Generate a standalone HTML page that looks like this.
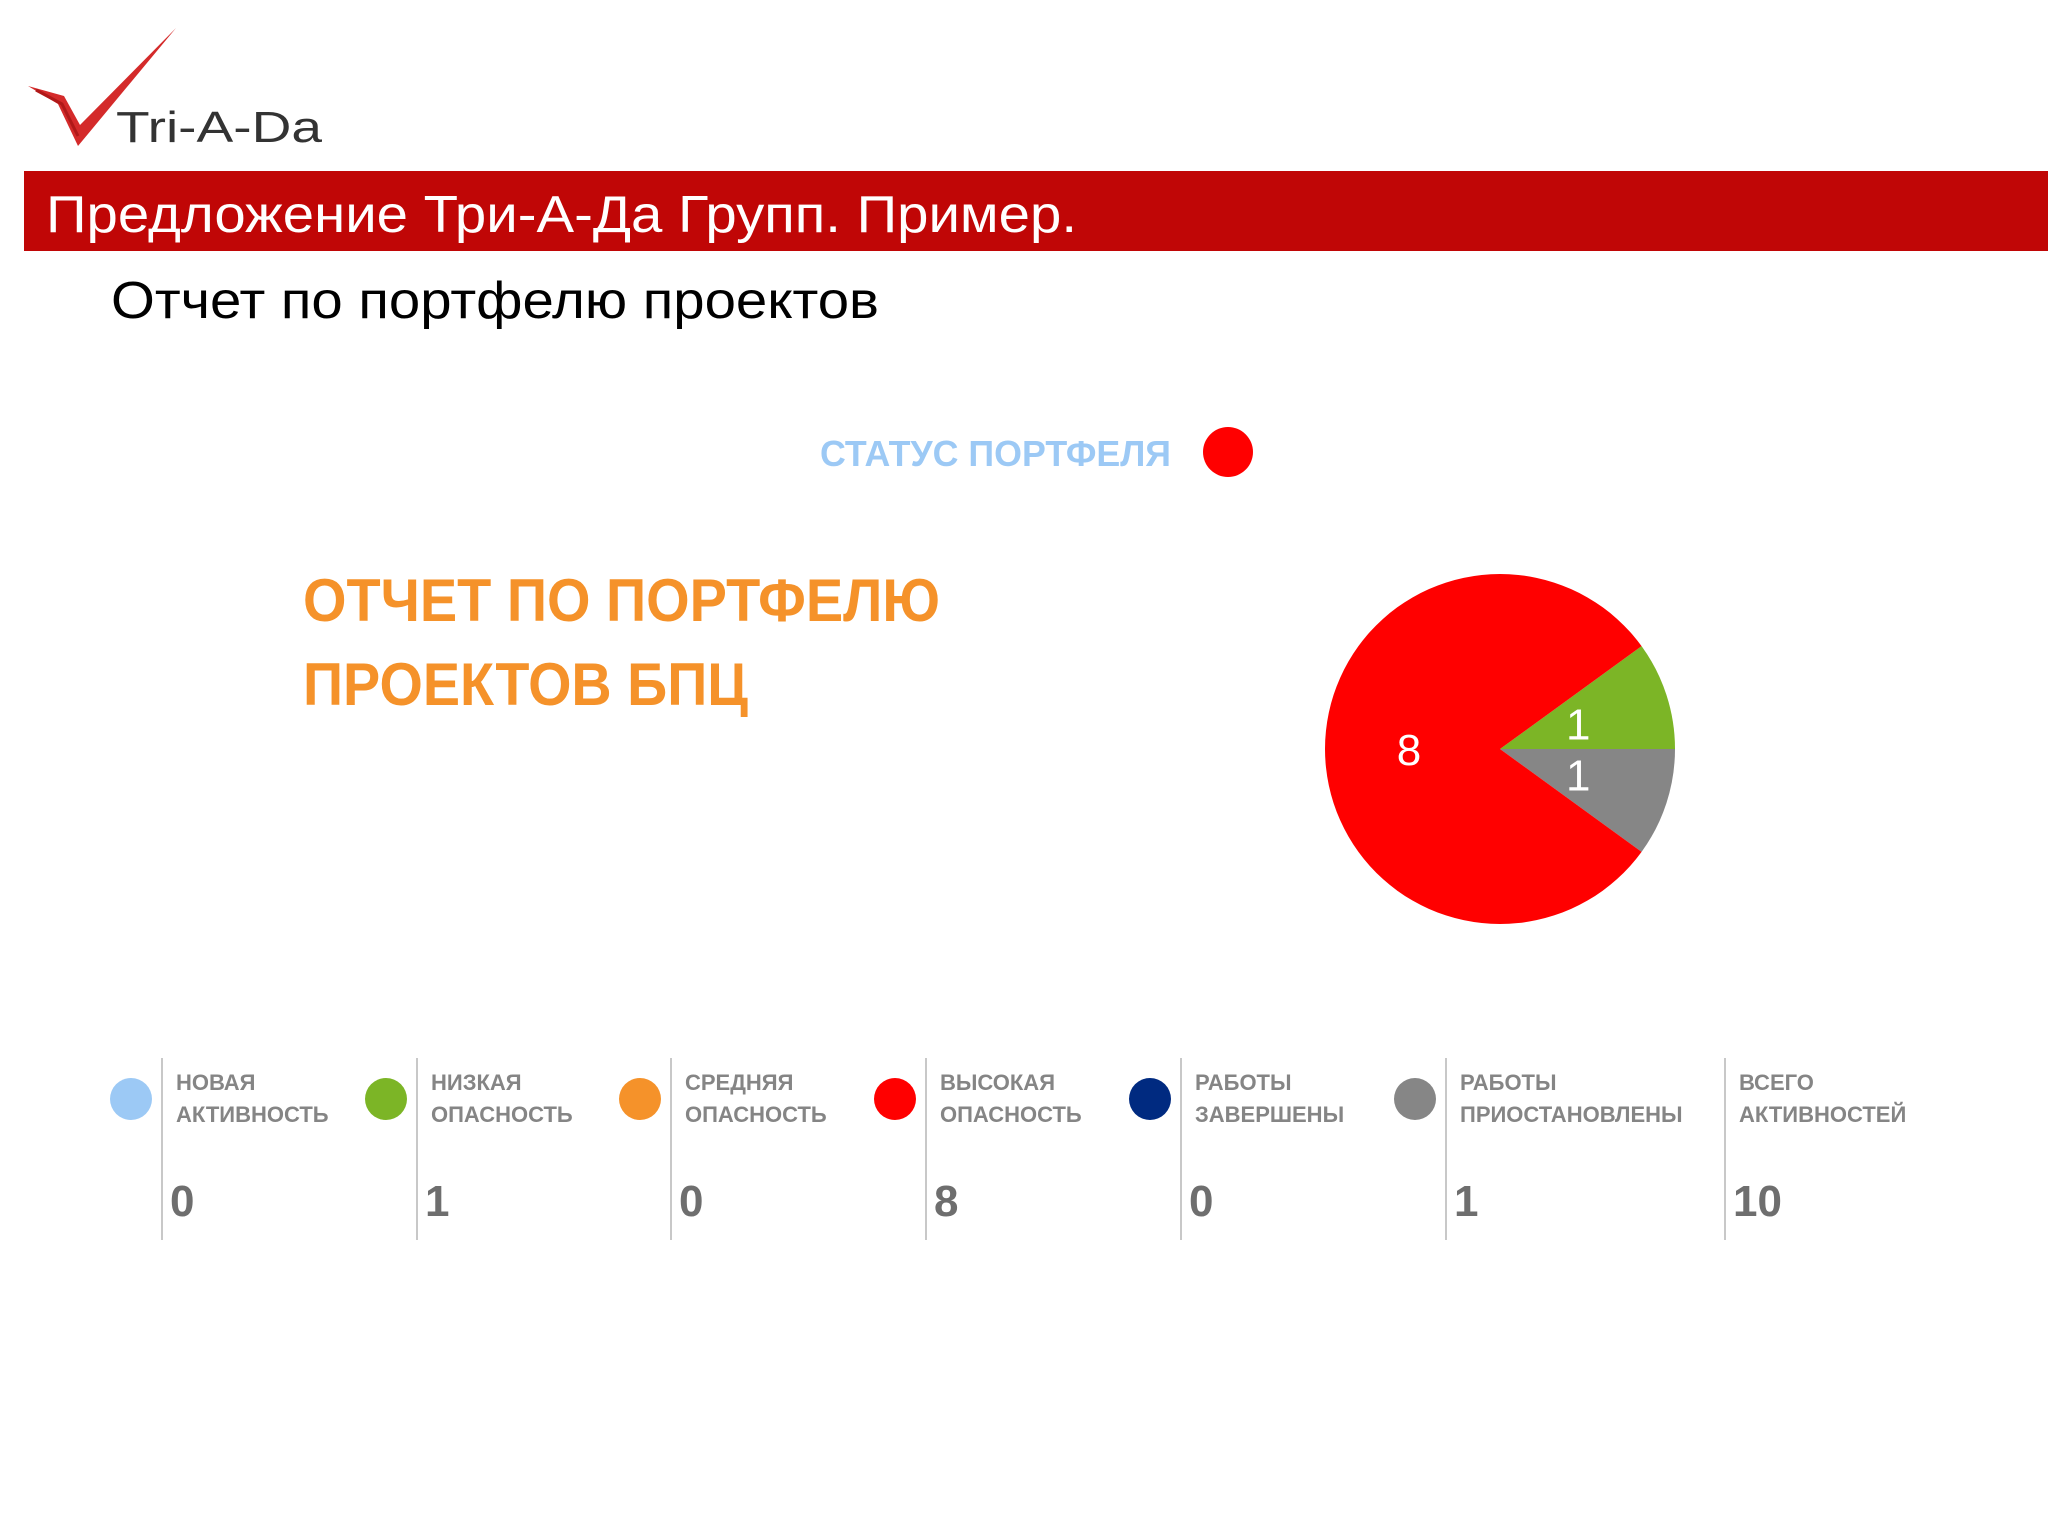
<!DOCTYPE html>
<html><head><meta charset="utf-8"><style>
html,body{margin:0;padding:0;background:#fff;}
svg{display:block;}
text{font-family:"Liberation Sans","DejaVu Sans",sans-serif;}
</style></head><body>
<svg id="s" width="2048" height="1536" viewBox="0 0 2048 1536">
<g>
<path d="M28 86 L58 104 L78 146 L176 28 L80 125 L64 96 Z" fill="#d42a2a"/>
<path d="M36 90 L62 104 L78 136" fill="none" stroke="#b01818" stroke-width="3"/>
<text x="116" y="142" font-size="44" fill="#333" textLength="206" lengthAdjust="spacingAndGlyphs">Tri-A-Da</text>
</g>
<rect x="24" y="171" width="2024" height="80" fill="#c00606"/>
<text x="46" y="232" font-size="52" fill="#fff" textLength="1031" lengthAdjust="spacingAndGlyphs">Предложение Три-А-Да Групп. Пример.</text>
<text x="111" y="318" font-size="52" fill="#000" textLength="768" lengthAdjust="spacingAndGlyphs">Отчет по портфелю проектов</text>
<text x="820" y="466" font-size="36" font-weight="bold" fill="#9cc9f5" textLength="351" lengthAdjust="spacingAndGlyphs">СТАТУС ПОРТФЕЛЯ</text>
<circle cx="1228" cy="452" r="25" fill="#ff0000"/>
<text x="303" y="621" font-size="60" font-weight="bold" fill="#f5922a" textLength="637" lengthAdjust="spacingAndGlyphs">ОТЧЕТ ПО ПОРТФЕЛЮ</text>
<text x="303" y="705" font-size="60" font-weight="bold" fill="#f5922a" textLength="445" lengthAdjust="spacingAndGlyphs">ПРОЕКТОВ БПЦ</text>
<g id="pie"></g>
<g id="legend"></g>
</svg>
<script>
const pieLabels = ["Низкая опасность","Работы приостановлены","Высокая опасность"];
const pieValues = [1, 1, 8];
const pieColors = ["#7cb526","#868686","#ff0000"];
const legendLabels1 = ["НОВАЯ","НИЗКАЯ","СРЕДНЯЯ","ВЫСОКАЯ","РАБОТЫ","РАБОТЫ","ВСЕГО"];
const legendLabels2 = ["АКТИВНОСТЬ","ОПАСНОСТЬ","ОПАСНОСТЬ","ОПАСНОСТЬ","ЗАВЕРШЕНЫ","ПРИОСТАНОВЛЕНЫ","АКТИВНОСТЕЙ"];
const legendValues = [0, 1, 0, 8, 0, 1, 10];
const legendColors = ["#9cc9f5","#7cb526","#f5922a","#ff0000","#002a80","#868686",null];

const NS = "http://www.w3.org/2000/svg";
function mk(tag, attrs, parent){const e=document.createElementNS(NS,tag);for(const k in attrs)e.setAttribute(k,attrs[k]);parent.appendChild(e);return e;}

const cx=1500, cy=749, R=175;
const pie=document.getElementById('pie');
const total=pieValues.reduce((a,b)=>a+b,0);
let a0 = -pieValues[0]/total*2*Math.PI;
[0,1,2].forEach(i=>{
  const a1=a0+pieValues[i]/total*2*Math.PI;
  const large=(a1-a0)>Math.PI?1:0;
  const d=`M${cx},${cy} L${cx+R*Math.cos(a0)},${cy+R*Math.sin(a0)} A${R},${R} 0 ${large} 1 ${cx+R*Math.cos(a1)},${cy+R*Math.sin(a1)} Z`;
  const p=mk('path',{d:d,fill:pieColors[i]},pie);
  
  
  const am=(a0+a1)/2, lr = pieValues[i]/total>0.5 ? R*0.52 : R*0.47;
  const t=mk('text',{x:cx+lr*Math.cos(am),y:cy+lr*Math.sin(am)+16,'font-size':44,fill:'#fff','text-anchor':'middle'},pie);
  t.textContent=pieValues[i];
  
  
  a0=a1;
});

const lg=document.getElementById('legend');
const divX=[162,417,671,926,1181,1446,1725];
legendValues.forEach((v,i)=>{
  const x=divX[i];
  const g=mk('g',{},lg);
  
  
  const ln=mk('line',{x1:x,y1:1058,x2:x,y2:1240,stroke:'#c8c8c8','stroke-width':2},g);
  
  
  if(legendColors[i]){
    const c=mk('circle',{cx:x-31,cy:1099,r:21,fill:legendColors[i]},g);
    
    
  }
  const t1=mk('text',{x:x+14,y:1090,'font-size':22,'font-weight':'bold',fill:'#858585'},g);
  t1.textContent=legendLabels1[i];
  
  
  const t2=mk('text',{x:x+14,y:1122,'font-size':22,'font-weight':'bold',fill:'#858585'},g);
  t2.textContent=legendLabels2[i];
  
  
  const tv=mk('text',{x:x+8,y:1216,'font-size':44,'font-weight':'bold',fill:'#6e6e6e'},g);
  tv.textContent=v;
  
  
});
</script>
</body></html>
